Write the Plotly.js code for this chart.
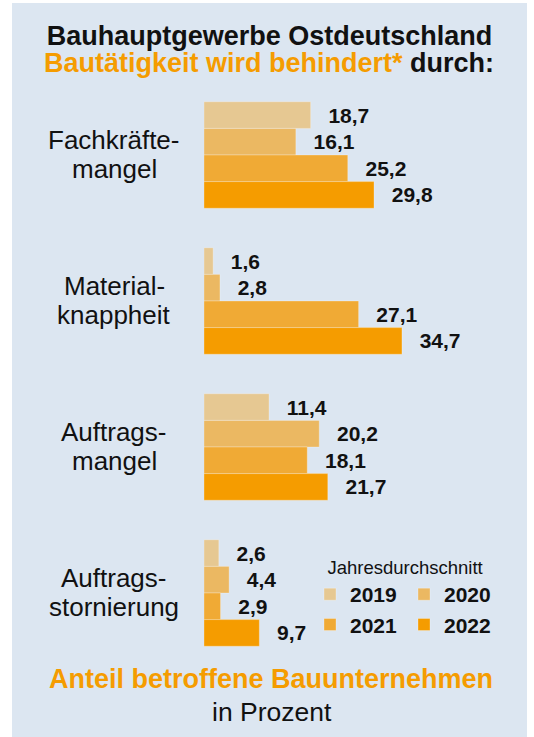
<!DOCTYPE html>
<html>
<head>
<meta charset="utf-8">
<script src="https://cdn.plot.ly/plotly-3.0.1.min.js"></script>
<style>
  html, body { margin: 0; padding: 0; background: #ffffff; width: 534px; height: 737px; overflow: hidden; }
  #chart { position: absolute; left: 12px; top: 3px; width: 515px; height: 734px; }
</style>
</head>
<body>
<div id="chart"></div>
<script>
// ---- data ----
const categories = ['Fachkräftemangel', 'Materialknappheit', 'Auftragsmangel', 'Auftragsstornierung'];
const labelLine1 = ['Fachkräfte-', 'Material-', 'Auftrags-', 'Auftrags-'];
const labelLine2 = ['mangel', 'knappheit', 'mangel', 'stornierung'];
const years = ['2019', '2020', '2021', '2022'];
const v2019 = [18.7, 1.6, 11.4, 2.6];
const v2020 = [16.1, 2.8, 20.2, 4.4];
const v2021 = [25.2, 27.1, 18.1, 2.9];
const v2022 = [29.8, 34.7, 21.7, 9.7];
const series = [v2019, v2020, v2021, v2022];
const colors = ['#e6c892', '#ebb862', '#f0aa35', '#f59c00'];

const FONT = 'Liberation Sans, Arial, sans-serif';
const ORANGE = '#f59c00';

const traces = series.map((vals, i) => ({
  type: 'bar',
  orientation: 'h',
  name: years[i],
  x: vals,
  y: categories,
  marker: { color: colors[i], line: { color: 'rgba(255,255,255,0.35)', width: 0.8 } },
  texttemplate: '\u2002\u2009%{x:.1f}',
  textposition: 'outside',
  constraintext: 'none',
  cliponaxis: false,
  textfont: { family: FONT, size: 21, color: '#111111', weight: 'bold' },
  hoverinfo: 'skip'
}));

// plot area geometry (div coords)
const W = 515, H = 734;
const mL = 192, plotW = 250;
const mT = 79, plotH = 584;
const py = yd => (mT + plotH - yd) / plotH;   // div y -> paper y

const annotations = [];
categories.forEach((c, i) => {
  annotations.push({ xref: 'paper', yref: 'y', x: -0.36, y: c, xanchor: 'center', yanchor: 'middle',
    yshift: 15, text: labelLine1[i], showarrow: false, font: { family: FONT, size: 26, color: '#111111' } });
  annotations.push({ xref: 'paper', yref: 'y', x: -0.36, y: c, xanchor: 'center', yanchor: 'middle',
    yshift: -14, text: labelLine2[i], showarrow: false, font: { family: FONT, size: 26, color: '#111111' } });
});
annotations.push({ xref: 'paper', yref: 'paper', x: (256.5 - mL) / plotW, y: py(60.3), xanchor: 'center', yanchor: 'middle',
  text: '<b><span style="color:' + ORANGE + '">Bautätigkeit wird behindert*</span> durch:</b>', showarrow: false,
  font: { family: FONT, size: 27, color: '#111111' } });
annotations.push({ xref: 'paper', yref: 'paper', x: (258.5 - mL) / plotW, y: py(676), xanchor: 'center', yanchor: 'middle',
  text: '<b>Anteil betroffene Bauunternehmen</b>', showarrow: false,
  font: { family: FONT, size: 27, color: ORANGE } });
annotations.push({ xref: 'paper', yref: 'paper', x: (259.5 - mL) / plotW, y: py(708.5), xanchor: 'center', yanchor: 'middle',
  text: 'in Prozent', showarrow: false,
  font: { family: FONT, size: 26.5, color: '#111111' } });

const layout = {
  width: W, height: H,
  paper_bgcolor: '#dce6f1',
  plot_bgcolor: 'rgba(0,0,0,0)',
  separators: ',.',
  margin: { l: mL, r: W - mL - plotW, t: mT, b: H - mT - plotH, pad: 0 },
  barmode: 'group',
  bargap: 0.271,
  bargroupgap: 0,
  showlegend: true,
  title: {
    text: '<b>Bauhauptgewerbe Ostdeutschland</b>',
    x: 0.5, xref: 'container', xanchor: 'center',
    y: 1 - 32.2 / H, yref: 'container', yanchor: 'middle',
    font: { family: FONT, size: 27, color: '#111111' }
  },
  xaxis: {
    range: [0, plotW / 5.705],
    visible: false, showgrid: false, zeroline: false, fixedrange: true
  },
  yaxis: {
    type: 'category',
    categoryorder: 'array', categoryarray: categories,
    range: [3.5, -0.5],
    showticklabels: false, showgrid: false, zeroline: false, showline: false, ticks: '', fixedrange: true
  },
  legend: {
    orientation: 'h',
    x: (298 - mL) / plotW, xanchor: 'left',
    y: py(547), yanchor: 'top',
    entrywidth: 49, entrywidthmode: 'pixels',
    bgcolor: 'rgba(0,0,0,0)', borderwidth: 0,
    traceorder: 'normal',
    font: { family: FONT, size: 21, color: '#111111', weight: 'bold' },
    title: { text: '\u00a0\u00a0\u00a0Jahresdurchschnitt', side: 'top', font: { family: FONT, size: 18.5, color: '#111111', weight: 'normal' } }
  },
  annotations: annotations,
  font: { family: FONT, color: '#111111' }
};

Plotly.newPlot('chart', traces, layout, { staticPlot: true, displayModeBar: false });
</script>
</body>
</html>
